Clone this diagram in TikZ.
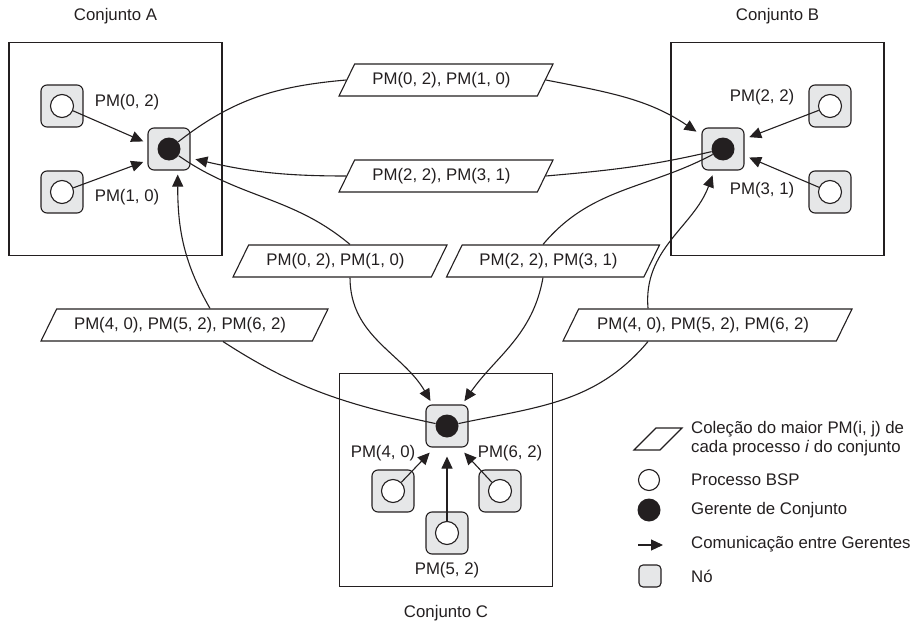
\documentclass[tikz,border=0pt]{standalone}
\usepackage{fontspec}
\setmainfont{Liberation Sans}
\usetikzlibrary{shapes.geometric,arrows.meta}
\definecolor{ink}{HTML}{231F20}
\definecolor{nodegray}{HTML}{E6E7E8}

\begin{document}
\begin{tikzpicture}[x=1pt,y=1pt,
  every node/.style={font=\fontsize{16.8}{19}\selectfont, text=ink},
  setbox/.style={draw=ink, line width=1.2pt, minimum size=213pt, inner sep=0pt},
  nodebox/.style={draw=ink, fill=nodegray, line width=1.1pt, rounded corners=6pt, minimum size=42pt, inner sep=0pt},
  proc/.style={circle, draw=ink, fill=white, line width=1.1pt, minimum size=23pt, inner sep=0pt},
  mgr/.style={circle, fill=ink, minimum size=23pt, inner sep=0pt},
  datum/.style={trapezium, trapezium left angle=45, trapezium right angle=135,
    trapezium stretches body, draw=ink, fill=white, line width=1.1pt,
    minimum height=32pt, inner sep=0pt, execute at begin node=\hspace*{-9pt}},
  link/.style={draw=ink, line width=1.1pt},
  arr/.style={link, -{Triangle[length=12pt,width=11pt]}},
  legendtext/.style={anchor=west, inner sep=0pt, align=left},
]
\useasboundingbox (0,0) rectangle (916,-626);

% the three sets
\node[setbox] (SA) at (115.5,-149) {};
\node[setbox] (SB) at (777.5,-149) {};
\node[setbox] (SC) at (446,-480) {};
\node (tA) at (115.5,-16) {Conjunto A};
\node (tB) at (777.5,-16) {Conjunto B};
\node (tC) at (446,-613) {Conjunto C};

% set managers
\node[nodebox] (MA) at (169,-149) {}; \node[mgr] (MAd) at (MA) {};
\node[nodebox] (MB) at (723,-149) {}; \node[mgr] (MBd) at (MB) {};
\node[nodebox] (MC) at (447,-426) {}; \node[mgr] (MCd) at (MC) {};

% BSP processes
\node[nodebox] (A1) at (62,-106) {};  \node[proc] (A1c) at (A1) {};
\node[nodebox] (A2) at (62,-192) {};  \node[proc] (A2c) at (A2) {};
\node[nodebox] (B1) at (830,-106) {}; \node[proc] (B1c) at (B1) {};
\node[nodebox] (B2) at (830,-192) {}; \node[proc] (B2c) at (B2) {};
\node[nodebox] (C1) at (393,-491) {}; \node[proc] (C1c) at (C1) {};
\node[nodebox] (C2) at (447,-533) {}; \node[proc] (C2c) at (C2) {};
\node[nodebox] (C3) at (500,-491) {}; \node[proc] (C3c) at (C3) {};

\node (lA1) at (127,-102) {PM(0, 2)};
\node (lA2) at (127,-197) {PM(1, 0)};
\node (lB1) at (762,-97) {PM(2, 2)};
\node (lB2) at (762,-190) {PM(3, 1)};
\node (lC1) at (383,-453) {PM(4, 0)};
\node (lC3) at (510,-453) {PM(6, 2)};
\node (lC2) at (447,-570) {PM(5, 2)};

% exchanged collections
\node[datum, minimum width=214pt] (P1) at (446,-80) {PM(0, 2), PM(1, 0)};
\node[datum, minimum width=214pt] (P2) at (446,-176) {PM(2, 2), PM(3, 1)};
\node[datum, minimum width=214pt] (P3) at (340,-261) {PM(0, 2), PM(1, 0)};
\node[datum, minimum width=213pt] (P5) at (553,-261) {PM(2, 2), PM(3, 1)};
\node[datum, minimum width=287pt] (P4) at (184.5,-325) {PM(4, 0), PM(5, 2), PM(6, 2)};
\node[datum, minimum width=289pt] (P6) at (707.5,-325) {PM(4, 0), PM(5, 2), PM(6, 2)};

% communication between managers
\draw[link] (MAd) to[out=38,in=185] (P1.west);
\draw[arr, shorten >=6pt] (P1.east) to[out=-11,in=146] (MB.147);
\draw[link] (MBd) to[out=193,in=5] (P2.east);
\draw[arr, shorten >=5pt] (P2.west) to[out=180,in=-13] (MA.-23);
\draw[link] (MAd) to[out=-35,in=140] ([xshift=10pt]P3.north);
\draw[arr, shorten >=4pt] ([xshift=10pt]P3.south) to[out=-90,in=120] (MC.124);
\draw[link] (MBd) to[out=208,in=50] ([xshift=-10pt]P5.north);
\draw[arr, shorten >=4pt] ([xshift=-10pt]P5.south) to[out=-100,in=55] (MC.55);
\draw[link] (MCd) to[out=168,in=-33] ([xshift=38.5pt]P4.south);
\draw[arr, shorten >=4pt] ([xshift=25.5pt]P4.north) to[out=120,in=-90] (MA.-68);
\draw[link] (MCd) to[out=12,in=230] ([xshift=-59.5pt]P6.south);
\draw[arr, shorten >=5pt] ([xshift=-59.5pt]P6.north) to[out=95,in=-110] (MB.-112);

% processes reporting to their manager
\draw[arr, shorten >=4.5pt] (A1c) -- (MA.165);
\draw[arr, shorten >=4.5pt] (A2c) -- (MA.208);
\draw[arr, shorten >=5pt] (B1c) -- (MB.25);
\draw[arr, shorten >=5pt] (B2c) -- (MB.-17);
\draw[arr, shorten >=7pt] (C1c) -- (MC.240);
\draw[arr, shorten >=9pt] (C2c) -- (MC.south);
\draw[arr, shorten >=7pt] (C3c) -- (MC.-60);

% legend
\draw[ink, fill=white, line width=1.1pt] (634,-450) -- (656,-428) -- (682,-428) -- (660,-450) -- cycle;
\node[proc, minimum size=21pt] (LO) at (649,-480) {};
\node[mgr] (LM) at (649,-510) {};
\coordinate (LAs) at (638,-545);
\coordinate (LAe) at (663,-545);
\draw[arr] (LAs) -- (LAe);
\node[nodebox, minimum size=22pt, rounded corners=4pt] (LN) at (650,-576) {};
\node[legendtext] (LTp) at (691,-439) {Coleção do maior PM(i, j) de\\cada processo \textit{i} do conjunto};
\node[legendtext] (LTo) at (691,-480) {Processo BSP};
\node[legendtext] (LTm) at (691,-510) {Gerente de Conjunto};
\node[legendtext] (LTa) at (691,-544) {Comunicação entre Gerentes};
\node[legendtext] (LTn) at (691,-576) {Nó};
\end{tikzpicture}
\end{document}
